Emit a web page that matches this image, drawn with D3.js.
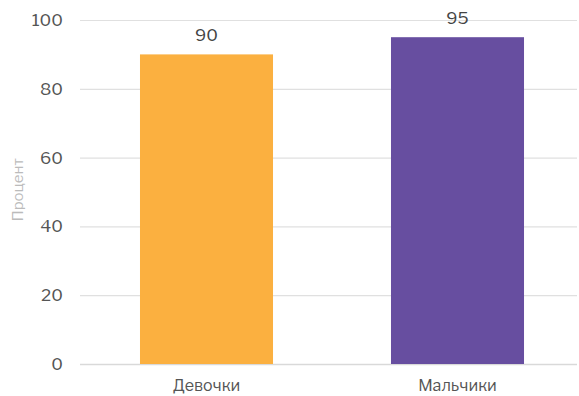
<!DOCTYPE html>
<html><head><meta charset="utf-8">
<script src="https://cdn.jsdelivr.net/npm/d3@7"></script>
<style>body{margin:0;background:#fff;}svg{display:block;font-family:"Libre Franklin","Roboto","Liberation Sans",sans-serif;}</style>
</head><body>
<svg id="c" width="579" height="396"></svg>
<script>
const categories = ["Девочки", "Мальчики"];
const values = [90, 95];
const colors = ["#FBB040", "#674EA0"];
const yTicks = [0, 20, 40, 60, 80, 100];
const yTitle = "Процент";

const svg = d3.select("#c");
const y = d3.scaleLinear().domain([0, 100]).range([364, 20]);
const x = d3.scaleBand().domain(categories).range([81, 583]).paddingInner(0.47).paddingOuter(0.235);

svg.append("g").selectAll("line").data(yTicks).join("line")
  .attr("x1", 80).attr("x2", 577)
  .attr("y1", d => y(d) + 0.5).attr("y2", d => y(d) + 0.5)
  .attr("stroke", d => d === 0 ? "#d9d9d9" : "#e0e0e0").attr("stroke-width", d => d === 0 ? 1.5 : 1.2);

svg.append("g").selectAll("text").data(yTicks).join("text")
  .attr("x", 63).attr("y", d => y(d)).attr("dy", "0.35em")
  .attr("text-anchor", "end").attr("fill", "#555").attr("font-size", 17)
  .text(d => d);

svg.append("g").selectAll("rect").data(values).join("rect")
  .attr("x", (d, i) => x(categories[i])).attr("width", x.bandwidth())
  .attr("y", d => y(d)).attr("height", d => y(0) - y(d))
  .attr("fill", (d, i) => colors[i]);

svg.append("g").selectAll("text").data(values).join("text")
  .attr("x", (d, i) => x(categories[i]) + x.bandwidth() / 2)
  .attr("y", d => y(d) - 13)
  .attr("text-anchor", "middle").attr("fill", "#444").attr("font-size", 17)
  .text(d => d);

svg.append("g").selectAll("text").data(categories).join("text")
  .attr("x", d => x(d) + x.bandwidth() / 2).attr("y", 391)
  .attr("text-anchor", "middle").attr("fill", "#555").attr("font-size", 16)
  .text(d => d);

svg.append("text").attr("transform", "translate(23,190) rotate(-90)")
  .attr("text-anchor", "middle").attr("fill", "#bbb").attr("font-size", 15)
  .text(yTitle);
</script>
</body></html>
